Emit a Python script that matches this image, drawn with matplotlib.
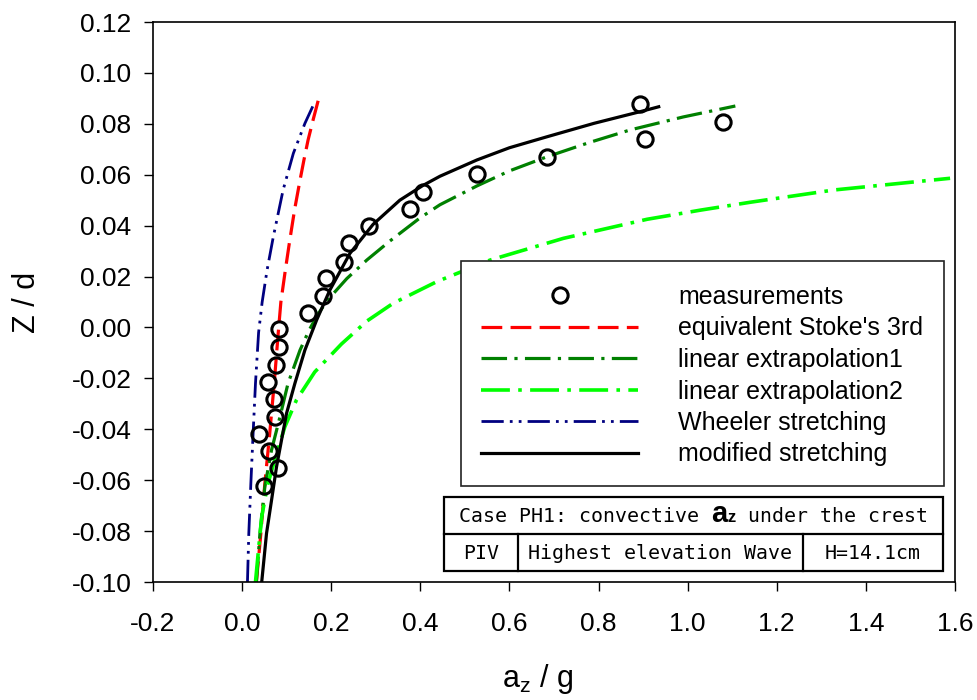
import matplotlib
matplotlib.use("Agg")
import matplotlib.pyplot as plt
from matplotlib.patches import Rectangle
from matplotlib.lines import Line2D

plt.rcParams['font.family'] = ['Liberation Sans', 'DejaVu Sans']
plt.rcParams['mathtext.default'] = 'regular'

# ---- data -------------------------------------------------------------
meas_x = [0.894, 1.080, 0.905, 0.685, 0.527, 0.405, 0.377, 0.285, 0.240, 0.229,
          0.188, 0.182, 0.148, 0.083, 0.082, 0.076, 0.057, 0.071, 0.074, 0.038,
          0.060, 0.081, 0.050]
meas_y = [0.0877, 0.0808, 0.0739, 0.0671, 0.0603, 0.0533, 0.0466, 0.0400, 0.0330, 0.0259,
          0.0194, 0.0125, 0.0058, -0.0007, -0.0077, -0.0146, -0.0214, -0.0281, -0.0352, -0.0419,
          -0.0484, -0.0554, -0.0622]

stokes_x = [0.032, 0.042, 0.051, 0.062, 0.072, 0.081, 0.087, 0.097, 0.107, 0.118,
            0.130, 0.139, 0.148, 0.160, 0.171]
stokes_y = [-0.100, -0.081, -0.0613, -0.0416, -0.0220, -0.0023, 0.0100, 0.0225, 0.0343, 0.0465,
            0.0579, 0.0660, 0.0736, 0.0820, 0.0893]

lin1_x = [0.032, 0.040, 0.051, 0.066, 0.085, 0.103, 0.130, 0.150, 0.170, 0.193, 0.235,
          0.280, 0.332, 0.399, 0.444, 0.527, 0.600, 0.685, 0.780, 0.871, 0.990, 1.107]
lin1_y = [-0.100, -0.081, -0.0626, -0.0482, -0.0351, -0.0220, -0.0089, -0.0012, 0.0052, 0.0110, 0.0192,
          0.0265, 0.0340, 0.0430, 0.0482, 0.0556, 0.0615, 0.0671, 0.0727, 0.0776, 0.0827, 0.0870]

lin2_x = [0.030, 0.037, 0.044, 0.057, 0.073, 0.096, 0.122, 0.163, 0.223, 0.280, 0.339,
          0.437, 0.557, 0.721, 0.909, 1.029, 1.141, 1.328, 1.589]
lin2_y = [-0.100, -0.0870, -0.0744, -0.0620, -0.0521, -0.0390, -0.0285, -0.0175, -0.0065, 0.0025, 0.0095,
          0.0180, 0.0265, 0.0350, 0.0425, 0.0461, 0.0492, 0.0540, 0.0586]

wheeler_x = [0.012, 0.015, 0.0196, 0.0247, 0.030, 0.037, 0.045, 0.056, 0.070, 0.092,
             0.115, 0.141, 0.160]
wheeler_y = [-0.100, -0.081, -0.0613, -0.0416, -0.0220, -0.0020, 0.0100, 0.0225, 0.0356, 0.0540,
             0.0684, 0.0802, 0.0874]

modified_x = [0.044, 0.0548, 0.0661, 0.0773, 0.0885, 0.0998, 0.1184, 0.1409, 0.1672, 0.197,
              0.242, 0.294, 0.354, 0.405, 0.444, 0.527, 0.600, 0.684, 0.790, 0.894, 0.935]
modified_y = [-0.100, -0.0809, -0.0678, -0.0547, -0.0442, -0.0337, -0.0220, -0.0089, 0.0029, 0.0147,
              0.0291, 0.0405, 0.0500, 0.0557, 0.0594, 0.0658, 0.0706, 0.0749, 0.0802, 0.0848, 0.0867]

x_ticks = [-0.2, 0.0, 0.2, 0.4, 0.6, 0.8, 1.0, 1.2, 1.4, 1.6]
y_ticks = [-0.10, -0.08, -0.06, -0.04, -0.02, 0.00, 0.02, 0.04, 0.06, 0.08, 0.10, 0.12]

series_labels = ["measurements", "equivalent Stoke's 3rd", "linear extrapolation1",
                 "linear extrapolation2", "Wheeler stretching", "modified stretching"]

case_title = ("Case PH1: convective ", "a", "z", " under the crest")
case_cells = ["PIV", "Highest elevation Wave", "H=14.1cm"]

# ---- figure -----------------------------------------------------------
W, H = 977, 700
fig = plt.figure(figsize=(W / 100, H / 100), dpi=100)
L, R, T, B = 153, 955, 22, 582
ax = fig.add_axes([L / W, 1 - B / H, (R - L) / W, (B - T) / H])

h_meas, = ax.plot(meas_x, meas_y, linestyle='none', marker='o', ms=11,
                  mfc='none', mec='black', mew=2.2, zorder=5)
h_stokes, = ax.plot(stokes_x, stokes_y, color='#FF0000', lw=2.3, dashes=(6.5, 2.6))
h_lin1, = ax.plot(lin1_x, lin1_y, color='#008000', lw=2.3, dashes=(8, 2.3, 1, 2.3))
h_lin2, = ax.plot(lin2_x, lin2_y, color='#00FF00', lw=2.6, dashes=(8, 2.3, 1, 2.3))
h_wheel, = ax.plot(wheeler_x, wheeler_y, color='#000080', lw=2.0,
                   dashes=(8, 2.2, 1, 2.2, 1, 2.2))
h_mod, = ax.plot(modified_x, modified_y, color='black', lw=2.3)

ax.set_xlim(-0.2, 1.6)
ax.set_ylim(-0.10, 0.12)
ax.set_xticks(x_ticks)
ax.set_xticklabels([f"{v:.1f}" for v in x_ticks])
ax.set_yticks(y_ticks)
ax.set_yticklabels([f"{v:.2f}" for v in y_ticks])
ax.tick_params(axis='both', direction='out', length=6.5, width=1.0,
               labelsize=19, colors='black', top=False, right=False)
ax.tick_params(axis='y', pad=9)
ax.tick_params(axis='x', pad=15)
for s in ax.spines.values():
    s.set_linewidth(1.2)
    s.set_color('black')

ax.set_ylabel("Z / d", fontsize=22)
ax.set_xlabel(r"a$_z$ / g", fontsize=22)
ax.yaxis.set_label_coords(-0.138, 0.50)
ax.xaxis.set_label_coords(0.48, -0.143)

def ax_x(px):
    return (px - L) / (R - L)

def ax_y(py):
    return (B - py) / (B - T)

# legend box
lx0, lx1, ly0, ly1 = 461, 944, 261, 486
ax.add_patch(Rectangle((ax_x(lx0), ax_y(ly1)), ax_x(lx1) - ax_x(lx0), ax_y(ly0) - ax_y(ly1),
                       transform=ax.transAxes, fill=True, facecolor='white',
                       edgecolor='#222222', lw=1.2, zorder=6))
leg = ax.legend([h_meas, h_stokes, h_lin1, h_lin2, h_wheel, h_mod], series_labels,
                loc='upper left', bbox_to_anchor=(ax_x(481), ax_y(285)),
                frameon=False, fontsize=18, handlelength=6.3, handletextpad=1.6,
                labelspacing=0.30, borderpad=0, borderaxespad=0, numpoints=1)
leg.set_zorder(7)

# case table
tx0, tx1, ty0, tym, ty1 = 444, 943, 497, 534, 571
ax.add_patch(Rectangle((ax_x(tx0), ax_y(ty1)), ax_x(tx1) - ax_x(tx0), ax_y(ty0) - ax_y(ty1),
                       transform=ax.transAxes, facecolor='white', edgecolor='black',
                       lw=1.6, zorder=6))
ax.add_line(Line2D([ax_x(tx0), ax_x(tx1)], [ax_y(tym), ax_y(tym)], transform=ax.transAxes,
                   color='black', lw=1.6, zorder=7))
for dx in (518, 803):
    ax.add_line(Line2D([ax_x(dx), ax_x(dx)], [ax_y(tym), ax_y(ty1)], transform=ax.transAxes,
                       color='black', lw=1.6, zorder=7))

mono = 'DejaVu Sans Mono'
cell_edges = [tx0, 518, 803, tx1]
for i, txt in enumerate(case_cells):
    ax.text(ax_x((cell_edges[i] + cell_edges[i + 1]) / 2), ax_y((tym + ty1) / 2 + 1), txt,
            transform=ax.transAxes, ha='center', va='center', fontsize=14.3,
            family=mono, zorder=8)

# first row: mixed fonts laid out one after another on a common baseline
styles = [dict(family=mono, fontsize=14.3),
          dict(family='Liberation Sans', fontsize=21, fontweight='bold'),
          dict(family='Liberation Sans', fontsize=12, fontweight='bold'),
          dict(family=mono, fontsize=14.3)]
renderer = fig.canvas.get_renderer()
base_y = ax_y(522)
pieces = []
for txt, st in zip(case_title, styles):
    t = ax.text(0, base_y, txt, transform=ax.transAxes, ha='left', va='baseline',
                zorder=8, **st)
    pieces.append(t)
widths = [p.get_window_extent(renderer).width for p in pieces]
total = sum(widths)
x_px = (tx0 + tx1) / 2 - total / 2
for p, w in zip(pieces, widths):
    p.set_x(ax_x(x_px))
    x_px += w

fig.savefig("out.png", dpi=100, facecolor='white')
